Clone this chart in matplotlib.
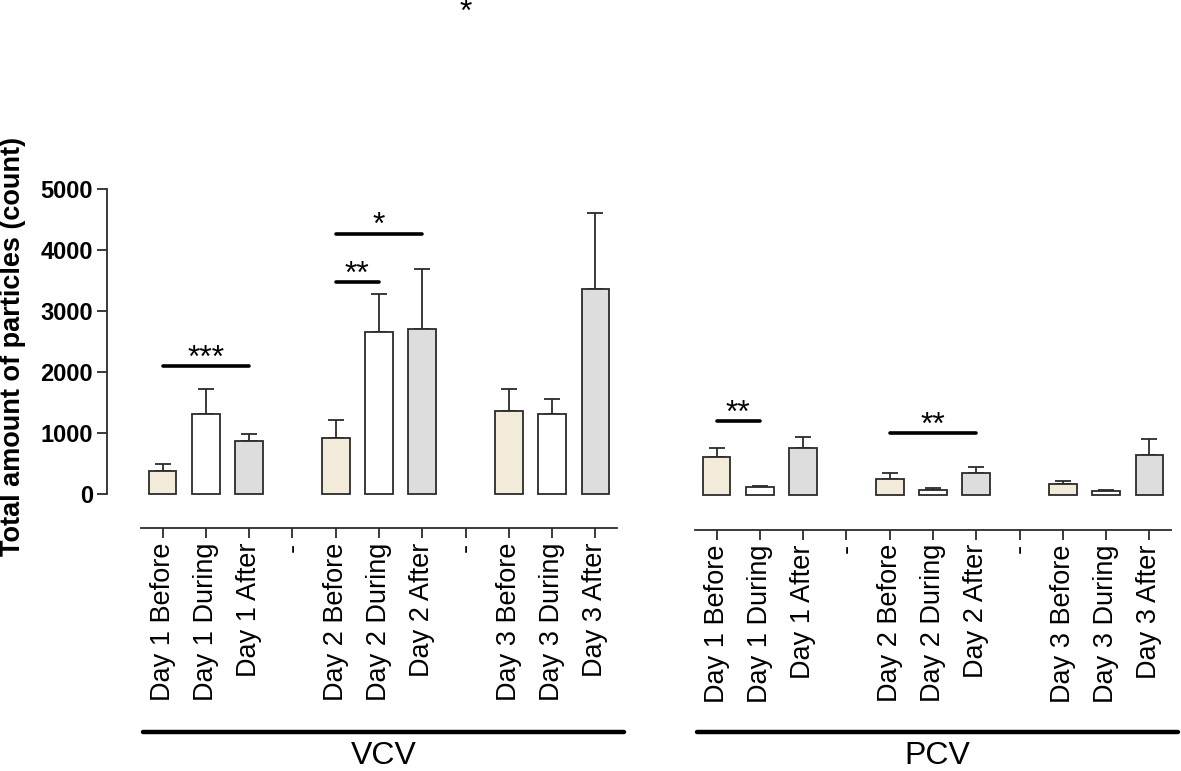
import numpy as np
import matplotlib
matplotlib.use("Agg")
import matplotlib.pyplot as plt
from matplotlib.lines import Line2D

plt.rcParams["font.family"] = ["Liberation Sans", "DejaVu Sans"]

labels = ["Day 1 Before", "Day 1 During", "Day 1 After", "-",
          "Day 2 Before", "Day 2 During", "Day 2 After", "-",
          "Day 3 Before", "Day 3 During", "Day 3 After"]
bar_pos = [0, 1, 2, 4, 5, 6, 8, 9, 10]
phase = ["Before", "During", "After"] * 3

vcv_mean = [384, 1304, 870, 920, 2650, 2700, 1363, 1309, 3366]
vcv_sem = [104, 420, 110, 285, 624, 995, 361, 246, 1248]
pcv_mean = [624, 138, 783, 269, 94, 368, 181, 72, 657]
pcv_sem = [159, 16, 181, 92, 21, 98, 55, 22, 263]

# (from, to, height, label)
vcv_sig = [(0, 2, 2100, "***"), (4, 5, 3470, "**"), (4, 6, 4270, "*")]
pcv_sig = [(0, 1, 1215, "**"), (4, 6, 1025, "**")]

colors = {"Before": "#f2ebda", "During": "#ffffff", "After": "#dddddd"}
edge = "#2b2b2b"

W, H = 1181, 771
fig = plt.figure(figsize=(W / 100, H / 100), dpi=100)

ax1 = fig.add_axes([141 / W, 1 - 528 / H, 476 / W, 339 / H])
ax2 = fig.add_axes([695 / W, 1 - 529.5 / H, 476 / W, 339 / H])


def draw(ax, mean, sem, sig):
    ax.bar(bar_pos, mean, width=0.64, color=[colors[p] for p in phase],
           edgecolor=edge, linewidth=1.3, zorder=3,
           yerr=[np.zeros(len(sem)), sem],
           error_kw=dict(ecolor=edge, elinewidth=1.3, capsize=5.5, capthick=1.3, zorder=2))
    ax.set_xlim(-0.5, 10.5)
    ax.set_ylim(-558, 5000)
    ax.set_xticks(range(11))
    ax.set_xticklabels(labels, rotation=90, fontsize=19.5, va="top")
    ax.tick_params(axis="x", length=7, width=1.3, color=edge, pad=3.5)
    for s in ["top", "right"]:
        ax.spines[s].set_visible(False)
    ax.spines["bottom"].set_linewidth(1.3)
    ax.spines["bottom"].set_color(edge)
    for x0, x1, h, txt in sig:
        ax.plot([x0, x1], [h, h], color="black", lw=2.6, solid_capstyle="round", zorder=4)
        ax.text((x0 + x1) / 2, h - 10, txt, ha="center", va="baseline", fontsize=23)


draw(ax1, vcv_mean, vcv_sem, vcv_sig)
draw(ax2, pcv_mean, pcv_sem, pcv_sig)

ax1.spines["left"].set_position(("outward", 24.5))
ax1.spines["left"].set_bounds(0, 5000)
ax1.spines["left"].set_linewidth(1.3)
ax1.spines["left"].set_color(edge)
ax1.set_yticks([0, 1000, 2000, 3000, 4000, 5000])
ax1.tick_params(axis="y", length=7, width=1.3, color=edge, pad=3, labelsize=17)
for t in ax1.get_yticklabels():
    t.set_fontweight("bold")
ax2.spines["left"].set_visible(False)
ax2.set_yticks([])

# stray significance mark at the top
ax1.text(7, 7750, "*", ha="center", va="baseline", fontsize=23, clip_on=False)

fig.text(13 / W, 1 - 346 / H, "Total amount of particles (count)", rotation=90,
         ha="center", va="center", fontsize=19.5, fontweight="bold")

for x0, x1, name in [(143, 624, "VCV"), (697, 1178, "PCV")]:
    fig.add_artist(Line2D([x0 / W, x1 / W], [1 - 732 / H, 1 - 732 / H],
                          color="black", lw=3.2, solid_capstyle="round"))
    fig.text((x0 + x1) / 2 / W, 1 - 756 / H, name, ha="center", va="center", fontsize=23)

fig.savefig("out.png", dpi=100, facecolor="white")
